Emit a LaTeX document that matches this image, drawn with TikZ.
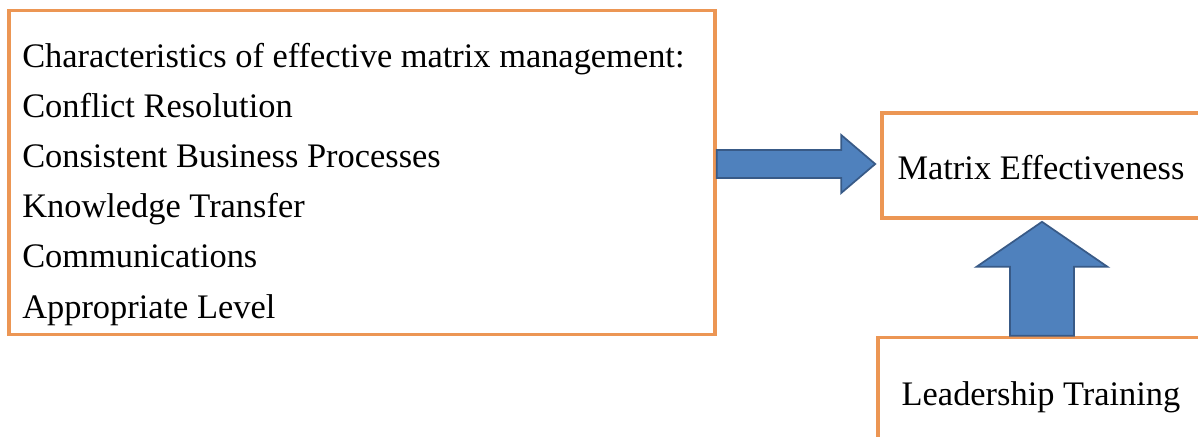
\documentclass[tikz,border=0pt]{standalone}
\usepackage{fontspec}
\setmainfont{Liberation Serif}
\usetikzlibrary{calc}
\definecolor{boxorange}{RGB}{236,150,84}
\definecolor{arrowblue}{RGB}{79,129,189}
\definecolor{arrowedge}{RGB}{56,90,135}
\tikzset{
  box/.style={draw=boxorange,line width=2.7pt,inner sep=0pt},
  item/.style={anchor=base west,inner sep=0pt},
  blockarrow/.style={fill=arrowblue,draw=arrowedge,line width=1.3pt,line join=miter}
}
\begin{document}
\begin{tikzpicture}[x=0.75pt,y=-0.75pt,font=\fontsize{25.8}{30}\selectfont]
	\useasboundingbox (0,0) rectangle (1198,436);
	\node[box,minimum width=529.5pt,minimum height=243pt] (list) at (362,172.5) {};
	\node[box,minimum width=238.5pt,minimum height=78.75pt,text height=21.5pt,text depth=0pt] (matrix) at (1041,165.5) {Matrix Effectiveness};
	\node[box,minimum width=244.5pt,minimum height=88.5pt,text height=13pt,text depth=0pt] (leader) at (1041,396.5) {Leadership Training};
	% list of characteristics
	\foreach \t [count=\i] in {Characteristics of effective matrix management:,Conflict Resolution,Consistent Business Processes,Knowledge Transfer,Communications,Appropriate Level}
		\node[item] (item\i) at (22,{67+(\i-1)*50.2}) {\t};
	% right arrow
	\coordinate (tipA) at ($(matrix.west)+(-5,-1.5)$);
	\coordinate (tailA) at (list.east |- tipA);
	\draw[blockarrow] ($(tailA)+(0,-14)$) -- ($(tipA)+(-34,-14)$) -- ($(tipA)+(-34,-29)$) -- (tipA)
		-- ($(tipA)+(-34,29)$) -- ($(tipA)+(-34,14)$) -- ($(tailA)+(0,14)$) -- cycle;
	% up arrow
	\coordinate (tipB) at ($(matrix.south)+(1,2)$);
	\coordinate (tailB) at (leader.north -| tipB);
	\draw[blockarrow] ($(tailB)+(-32,0)$) -- ($(tipB)+(-32,45)$) -- ($(tipB)+(-65.5,45)$) -- (tipB)
		-- ($(tipB)+(65.5,45)$) -- ($(tipB)+(32,45)$) -- ($(tailB)+(32,0)$) -- cycle;
\end{tikzpicture}
\end{document}
